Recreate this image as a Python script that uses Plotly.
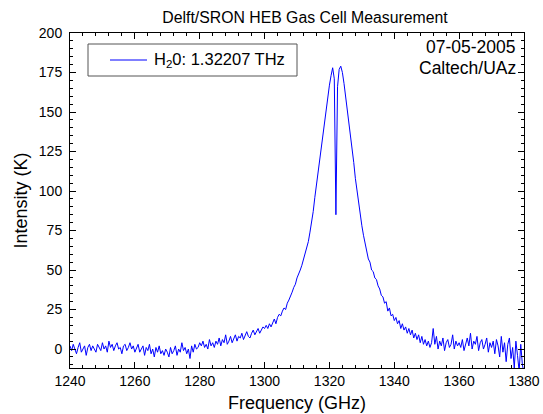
import numpy as np
import plotly.graph_objects as go

freq_start = 1240.0
freq_step = 0.5
intensity = [
    # 1240 - 1250
    2, -1, 3, 0, -3, 1, 4, -2, 0, 2, -4, 1, 3, -1, 2, 0, -2, 3, 1, -1, 4,
    # 1250.5 - 1260
    0, 2, -2, 5, 1, 3, -1, 2, 4, 0, 1, -3, 2, 3, -1, 1, 4, 0, 2, -2,
    # 1260.5 - 1270
    1, 3, -2, 0, 2, -4, 1, -1, 3, -3, 0, -5, 1, -2, 2, -3, -1, -4, 0, -2,
    # 1270.5 - 1280
    -5, 1, -3, -1, 2, -4, 0, -2, 4, -1, 1, -3, 0, -6, 2, -2, 3, 0, 1, 4,
    # 1280.5 - 1290
    2, 5, 1, 3, 0, 6, 2, 4, 1, 5, 3, 7, 2, 6, 4, 9, 3, 5, 8, 4,
    # 1290.5 - 1300
    6, 9, 5, 8, 7, 10, 6, 9, 11, 8, 7, 10, 12, 9, 11, 13, 10, 12, 14, 13,
    # 1300.5 - 1310
    15, 13, 16, 14, 17, 19, 16, 20, 22, 21, 24, 26, 25, 29, 31, 33, 36, 39, 41, 45,
    # 1310.5 - 1320
    47, 50, 53, 57, 60, 64, 68, 74, 80, 87, 96, 104, 112, 120, 129, 137, 145, 153, 161, 167,
    # 1320.5 - 1330
    173, 178, 171, 85, 166, 177, 179, 175, 168, 160, 152, 145, 136, 127, 118, 108, 100, 92, 85, 78,
    # 1330.5 - 1340
    72, 67, 64, 57, 55, 50, 49, 45, 44, 40, 38, 34, 33, 29, 30, 24, 26, 21, 22, 18,
    # 1340.5 - 1350
    20, 16, 18, 13, 16, 12, 14, 10, 13, 9, 12, 7, 10, 6, 9, 4, 8, 3, 6, 2,
    # 1350.5 - 1360
    5, 1, 4, 13, 3, 8, 0, 5, 2, 7, -1, 4, 6, 1, 3, 9, 0, 5, 2, 4,
    # 1360.5 - 1370
    1, 6, -1, 3, 7, 2, 10, 0, 5, 3, 8, -1, 4, 6, 0, 3, 7, -2, 4, 1,
    # 1370.5 - 1380
    5, -3, 6, 2, -5, 8, -2, 4, -8, 3, 7, -6, 1, -12, 5, -4, -14, 3, -10, -15,
]
frequency = freq_start + freq_step * np.arange(len(intensity))

series_name = "H<sub>2</sub>0: 1.32207 THz"
title_text = "Delft/SRON HEB Gas Cell Measurement"
date_text = "07-05-2005"
site_text = "Caltech/UAz"
x_ticks = [1240, 1260, 1280, 1300, 1320, 1340, 1360, 1380]
y_ticks = [0, 25, 50, 75, 100, 125, 150, 175, 200]

FONT = "Liberation Sans, Arial, sans-serif"
LINE_COLOR = "#0000ff"

# plot area in pixels: x 70..524, y 33..368
PL, PR, PT, PB = 70, 524, 33, 368
W, H = 543, 414


def px_x(p):
    return (p - PL) / (PR - PL)


def px_y(p):
    return (PB - p) / (PB - PT)


fig = go.Figure()
fig.add_trace(go.Scatter(
    x=frequency, y=intensity, mode="lines", name=series_name,
    line=dict(color=LINE_COLOR, width=1), showlegend=False, hoverinfo="skip",
))

axis_common = dict(
    showline=True, linecolor="black", linewidth=1, mirror="ticks",
    ticks="inside", ticklen=6, tickcolor="black", tickwidth=1,
    showgrid=False, zeroline=False, automargin=False,
    tickfont=dict(family=FONT, size=14, color="black"),
)

fig.update_layout(
    width=W, height=H,
    margin=dict(l=PL, r=W - PR, t=PT, b=H - PB, autoexpand=False),
    paper_bgcolor="white", plot_bgcolor="white",
    font=dict(family=FONT, color="black"),
    hovermode=False,
    title=dict(text=title_text, x=305 / W, xref="container", xanchor="center",
               y=1 - 17 / H, yref="container", yanchor="middle",
               font=dict(family=FONT, size=15.8, color="black")),
    xaxis=dict(range=[1240, 1380], tickvals=x_ticks,
               minor=dict(dtick=4, tick0=1240, ticks="inside", ticklen=3, tickcolor="black"),
               title=dict(text="Frequency (GHz)", font=dict(family=FONT, size=18), standoff=8),
               **axis_common),
    yaxis=dict(range=[-12, 200], tickvals=y_ticks,
               minor=dict(dtick=5, tick0=0, ticks="inside", ticklen=3, tickcolor="black"),
               title=dict(text="Intensity (K)", font=dict(family=FONT, size=18), standoff=6),
               ticklabelstandoff=4,
               **axis_common),
    showlegend=False,
    shapes=[
        # legend box
        dict(type="rect", xref="paper", yref="paper",
             x0=px_x(88), x1=px_x(297), y0=px_y(76), y1=px_y(44),
             line=dict(color="#555555", width=1), fillcolor="white", layer="above"),
        # legend line sample
        dict(type="line", xref="paper", yref="paper",
             x0=px_x(110), x1=px_x(147), y0=px_y(60), y1=px_y(60),
             line=dict(color=LINE_COLOR, width=1), layer="above"),
    ],
    annotations=[
        dict(text=series_name, xref="paper", yref="paper", x=px_x(152), y=px_y(60),
             xanchor="left", yanchor="middle", showarrow=False,
             font=dict(family=FONT, size=16.5, color="black")),
        dict(text=date_text, xref="paper", yref="paper", x=px_x(518), y=px_y(47),
             xanchor="right", yanchor="middle", showarrow=False,
             font=dict(family=FONT, size=17.5, color="black")),
        dict(text=site_text, xref="paper", yref="paper", x=px_x(518), y=px_y(68),
             xanchor="right", yanchor="middle", showarrow=False,
             font=dict(family=FONT, size=17.5, color="black")),
    ],
)

fig.write_html(
    "out.html",
    config={"displayModeBar": False},
    post_script="document.body.style.margin='0';document.body.style.padding='0';",
)
